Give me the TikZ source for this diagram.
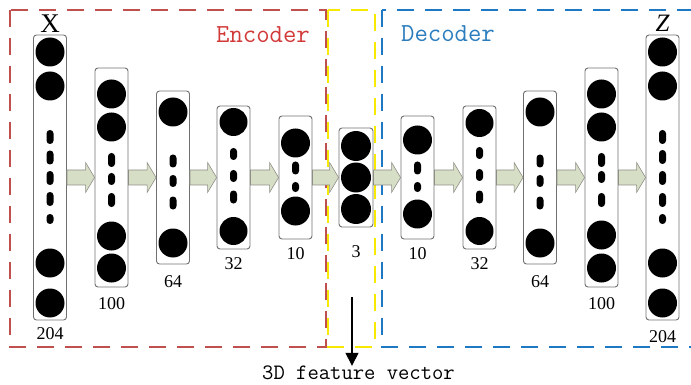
\documentclass[tikz,border=0pt]{standalone}
\usepackage{fontspec}
\setmainfont{Liberation Serif}
\usetikzlibrary{positioning,arrows.meta,calc}
\definecolor{encred}{HTML}{C0504D}
\definecolor{enctext}{HTML}{D23A3A}
\definecolor{decblue}{HTML}{1F78C4}
\definecolor{dectext}{HTML}{2B7DBE}
\definecolor{midyellow}{HTML}{F7EA00}
\definecolor{boxgray}{HTML}{707070}
\definecolor{flowfill}{HTML}{D7DEC6}
\definecolor{flowline}{HTML}{8E8E86}
\begin{document}
\begin{tikzpicture}[x=1pt, y=-1pt,
  layer/.style={draw=boxgray, line width=0.9pt, rounded corners=3pt, minimum width=33pt, inner sep=0pt},
  num/.style={inner sep=0pt, font=\fontsize{18}{20}\selectfont},
  pip/.style={rounded corners=3.4pt},
  flow/.style={fill=flowfill, draw=flowline, line width=0.6pt},
  region/.style={line width=2.5pt, dash pattern=on 17pt off 11pt}]
  \useasboundingbox (0,0) rectangle (691,385);

  % Dashed regions
  \draw[region, encred] (10,10) rectangle (326,347);
  \draw[region, midyellow] (328,10) rectangle (375,347);
  \draw[region, decblue] (382,10) rectangle (705,347);
  \node[text=enctext, font=\ttfamily\fontsize{26}{28}\selectfont] (enc) at (263,35) {Encoder};
  \node[text=dectext, font=\ttfamily\fontsize{26}{28}\selectfont] (dec) at (448,34) {Decoder};

  % Encoder layers
  \node[layer, minimum height=285pt] (c1) at (50,177.5) {};
  \fill (50,52) circle (14.5);
  \fill (50,86) circle (14.5);
  \fill[pip] (46.5,130) rectangle (53.5,144);
  \fill[pip] (46.5,150.5) rectangle (53.5,164.5);
  \fill[pip] (46.5,171) rectangle (53.5,185);
  \fill[pip] (46.5,192) rectangle (53.5,206);
  \fill[pip] (46.5,214) rectangle (53.5,224);
  \fill (50,263) circle (14.5);
  \fill (50,303) circle (14.5);

  \node[layer, minimum height=219pt] (c2) at (111.5,177.5) {};
  \fill (111.5,94) circle (14.5);
  \fill (111.5,127) circle (14.5);
  \fill[pip] (108,153) rectangle (115,167);
  \fill[pip] (108,173) rectangle (115,185);
  \fill[pip] (108,193) rectangle (115,207);
  \fill (111.5,236) circle (14.5);
  \fill (111.5,268) circle (14.5);

  \node[layer, minimum height=173pt] (c3) at (173,177.5) {};
  \fill (173,112) circle (14.5);
  \fill[pip] (169.5,154.5) rectangle (176.5,167.5);
  \fill[pip] (169.5,175) rectangle (176.5,187);
  \fill[pip] (169.5,196.5) rectangle (176.5,209.5);
  \fill (173,243) circle (14.5);

  \node[layer, minimum height=143pt] (c4) at (233.5,177.5) {};
  \fill (233.5,122) circle (14);
  \fill[pip] (230,148) rectangle (237,160);
  \fill[pip] (230,170) rectangle (237,182);
  \fill[pip] (230,190.5) rectangle (237,203.5);
  \fill (233.5,231) circle (14);

  \node[layer, minimum height=123pt] (c5) at (295.5,177.5) {};
  \fill (295.5,143) circle (14.5);
  \fill[pip] (292,161.5) rectangle (299,174.5);
  \fill[pip] (292,182) rectangle (299,192);
  \fill (295.5,211) circle (14.5);

  % Feature layer
  \node[layer, minimum height=99pt, minimum width=34pt] (c6) at (356,177.5) {};
  \fill (356,146) circle (15);
  \fill (356,177.5) circle (15);
  \fill (356,209) circle (15);

  % Decoder layers
  \node[layer, minimum height=123pt] (c7) at (417.5,177.5) {};
  \fill (417.5,140) circle (14.5);
  \fill[pip] (414,161.5) rectangle (421,174.5);
  \fill[pip] (414,182) rectangle (421,192);
  \fill (417.5,214) circle (14.5);

  \node[layer, minimum height=143pt] (c8) at (479.5,177.5) {};
  \fill (479.5,123) circle (14);
  \fill[pip] (476,147) rectangle (483,159);
  \fill[pip] (476,169) rectangle (483,181);
  \fill[pip] (476,190.5) rectangle (483,203.5);
  \fill (479.5,231) circle (14);

  \node[layer, minimum height=173pt] (c9) at (540,177.5) {};
  \fill (540,112) circle (14.5);
  \fill[pip] (536.5,154.5) rectangle (543.5,167.5);
  \fill[pip] (536.5,175) rectangle (543.5,187);
  \fill[pip] (536.5,196.5) rectangle (543.5,209.5);
  \fill (540,243) circle (14.5);

  \node[layer, minimum height=219pt] (c10) at (601.5,177.5) {};
  \fill (601.5,94) circle (14.5);
  \fill (601.5,127) circle (14.5);
  \fill[pip] (598,153) rectangle (605,167);
  \fill[pip] (598,171) rectangle (605,183);
  \fill[pip] (598,193) rectangle (605,207);
  \fill (601.5,235) circle (14.5);
  \fill (601.5,268) circle (14.5);

  \node[layer, minimum height=285pt] (c11) at (662.5,177.5) {};
  \fill (662.5,52) circle (14.5);
  \fill (662.5,86) circle (14.5);
  \fill[pip] (659,130) rectangle (666,144);
  \fill[pip] (659,150) rectangle (666,164);
  \fill[pip] (659,171) rectangle (666,185);
  \fill[pip] (659,193) rectangle (666,207);
  \fill[pip] (659,214) rectangle (666,224);
  \fill (662.5,263) circle (14.5);
  \fill (662.5,303) circle (14.5);

  % Block arrows between layers
  \foreach \a/\b in {c1/c2,c2/c3,c3/c4,c4/c5,c5/c6,c6/c7,c7/c8,c8/c9,c9/c10,c10/c11}
    \draw[flow] let \p1=(\a.east), \p2=(\b.west) in
      (\x1,\y1+7.5pt) -- (\x2-9pt,\y1+7.5pt) -- (\x2-9pt,\y1+15pt) -- (\x2,\y1)
      -- (\x2-9pt,\y1-15pt) -- (\x2-9pt,\y1-7.5pt) -- (\x1,\y1-7.5pt) -- cycle;

  % Layer sizes
  \node[inner sep=0pt, font=\fontsize{27}{29}\selectfont, above=2pt of c1] (xin) {X};
  \node[inner sep=0pt, font=\itshape\fontsize{25}{27}\selectfont, above=3pt of c11] (zout) {Z};
  \node[num, below=7pt of c1] (n1) {204};
  \node[num, below=10pt of c2] (n2) {100};
  \node[num, below=11pt of c3] (n3) {64};
  \node[num, below=8pt of c4] (n4) {32};
  \node[num, below=8pt of c5] (n5) {10};
  \node[num, below=18pt of c6] (n6) {3};
  \node[num, below=8pt of c7] (n7) {10};
  \node[num, below=8pt of c8] (n8) {32};
  \node[num, below=11pt of c9] (n9) {64};
  \node[num, below=10pt of c10] (n10) {100};
  \node[num, below=10pt of c11] (n11) {204};

  % Feature vector pointer
  \node[inner sep=0pt, font=\ttfamily\fontsize{22}{24}\selectfont] (feat) at (358.5,373) {3D feature vector};
  \coordinate (fvtop) at (352,297);
  \draw[line width=1.3pt, -{Triangle[length=13pt,width=13pt]}] (fvtop) -- (fvtop |- feat.north);
\end{tikzpicture}
\end{document}
